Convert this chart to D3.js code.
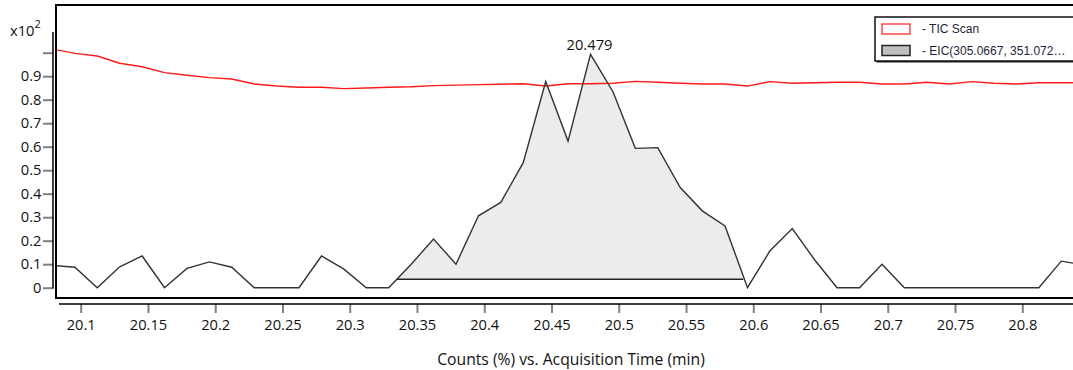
<!DOCTYPE html>
<html>
<head>
<meta charset="utf-8">
<script src="https://cdn.jsdelivr.net/npm/d3@7"></script>
<style>
  body { margin: 0; background: #fff; }
  svg { display: block; font-family: "Open Sans", "Noto Sans", sans-serif; }
  .axis text { font-family: "Open Sans", "Noto Sans", sans-serif; font-size: 14.7px; fill: #111; }
  .axis .tick line { stroke: #808080; stroke-width: 2; }
  .legend text { font-family: "Liberation Sans", Arial, sans-serif; font-size: 12px; fill: #1e1e3c; }
</style>
</head>
<body>
<svg width="1073" height="370"></svg>
<script>
// acquisition times (min), one scan per second
var times = [20.0790, 20.0957, 20.1123, 20.1290, 20.1457, 20.1623, 20.1790, 20.1957,
             20.2123, 20.2290, 20.2457, 20.2623, 20.2790, 20.2957, 20.3123, 20.3290,
             20.3457, 20.3623, 20.3790, 20.3957, 20.4123, 20.4290, 20.4457, 20.4623,
             20.4790, 20.4957, 20.5123, 20.5290, 20.5457, 20.5623, 20.5790, 20.5957,
             20.6123, 20.6290, 20.6457, 20.6623, 20.6790, 20.6957, 20.7123, 20.7290,
             20.7457, 20.7623, 20.7790, 20.7957, 20.8123, 20.8290, 20.8457];

// TIC Scan, counts x10^2
var tic = [1.016, 0.997, 0.986, 0.955, 0.940, 0.915, 0.904, 0.894,
           0.888, 0.867, 0.858, 0.853, 0.853, 0.847, 0.850, 0.853,
           0.855, 0.860, 0.862, 0.864, 0.866, 0.868, 0.858, 0.868,
           0.868, 0.870, 0.878, 0.874, 0.870, 0.867, 0.867, 0.858,
           0.877, 0.870, 0.872, 0.874, 0.874, 0.867, 0.867, 0.874,
           0.867, 0.877, 0.870, 0.867, 0.872, 0.872, 0.872];

// EIC(305.0667, 351.072...), counts x10^2
var eic = [0.095, 0.087, 0.000, 0.089, 0.135, 0.000, 0.082, 0.110,
           0.087, 0.000, 0.000, 0.000, 0.135, 0.079, 0.000, 0.000,
           0.100, 0.207, 0.100, 0.306, 0.363, 0.532, 0.877, 0.624,
           0.993, 0.834, 0.593, 0.596, 0.426, 0.326, 0.263, 0.000,
           0.156, 0.252, 0.118, 0.000, 0.000, 0.100, 0.000, 0.000,
           0.000, 0.000, 0.000, 0.000, 0.000, 0.113, 0.097];

// integrated peak baseline
var peakStart = 20.335, peakEnd = 20.5926, peakBase = 0.036;

var xTicks = [20.1, 20.15, 20.2, 20.25, 20.3, 20.35, 20.4, 20.45, 20.5, 20.55, 20.6, 20.65, 20.7, 20.75, 20.8];
var yTicks = [0, 0.1, 0.2, 0.3, 0.4, 0.5, 0.6, 0.7, 0.8, 0.9, 1.0];
var legendNames = ["- TIC Scan", "- EIC(305.0667, 351.072\u2026"];

var svg = d3.select("svg");
var W = +svg.attr("width");

var x = d3.scaleLinear().domain([20.1, 20.8]).range([80.7, 1022.3]);
var y = d3.scaleLinear().domain([0, 1]).range([287.7, 52.7]);

var ticData = times.map(function (t, i) { return {t: t, v: tic[i]}; });
var eicData = times.map(function (t, i) { return {t: t, v: eic[i]}; });

svg.append("clipPath").attr("id", "plot")
    .append("rect").attr("x", 57).attr("y", 6).attr("width", W - 57).attr("height", 291);

var g = svg.append("g").attr("clip-path", "url(#plot)");

// filled peak area between trace and baseline
function lerp(t) {
    for (var i = 1; i < times.length; i++) {
        if (times[i] >= t) {
            var f = (t - times[i - 1]) / (times[i] - times[i - 1]);
            return eic[i - 1] + f * (eic[i] - eic[i - 1]);
        }
    }
    return 0;
}
var poly = [{t: peakStart, v: lerp(peakStart)}]
    .concat(eicData.filter(function (d) { return d.t > peakStart && d.t < peakEnd; }))
    .concat([{t: peakEnd, v: lerp(peakEnd)}, {t: peakEnd, v: peakBase}, {t: peakStart, v: peakBase}]);

var line = d3.line().x(function (d) { return x(d.t); }).y(function (d) { return y(d.v); });

g.append("path")
    .datum(poly)
    .attr("fill", "#ececec")
    .attr("stroke", "none")
    .attr("d", line);

g.append("line")
    .attr("x1", x(peakStart)).attr("x2", x(peakEnd))
    .attr("y1", y(peakBase)).attr("y2", y(peakBase))
    .attr("stroke", "#222").attr("stroke-width", 1.6);

g.append("path").datum(ticData)
    .attr("fill", "none").attr("stroke", "#ff1a1a").attr("stroke-width", 1.4)
    .attr("d", line);

g.append("path").datum(eicData)
    .attr("fill", "none").attr("stroke", "#333").attr("stroke-width", 1.4)
    .attr("d", line);

// peak label
var apex = eicData.reduce(function (a, b) { return b.v > a.v ? b : a; });
svg.append("text")
    .attr("x", x(apex.t) - 1).attr("y", y(apex.v) - 4)
    .attr("text-anchor", "middle")
    .style("font-size", "14.7px").style("fill", "#111")
    .text(d3.format(".3f")(apex.t));

// plot frame
svg.append("rect")
    .attr("x", 56).attr("y", 5).attr("width", W + 10).attr("height", 293)
    .attr("fill", "none").attr("stroke", "#000").attr("stroke-width", 2);

// x axis
var xa = svg.append("g").attr("class", "axis")
    .attr("transform", "translate(0,304)")
    .call(d3.axisBottom(x).tickValues(xTicks).tickSize(9).tickPadding(7)
        .tickFormat(function (d) { return d3.format("")(+d.toFixed(2)); }));
xa.select(".domain").remove();
xa.append("line").attr("x1", 59).attr("x2", W).attr("y1", 0).attr("y2", 0)
    .attr("stroke", "#000").attr("stroke-width", 1.5);

// y axis
var ya = svg.append("g").attr("class", "axis")
    .attr("transform", "translate(53,0)")
    .call(d3.axisLeft(y).tickValues(yTicks).tickSize(10).tickPadding(1.5)
        .tickFormat(function (d) { return d >= 1 ? "" : (d === 0 ? "0" : d3.format(".1f")(d)); }));
ya.select(".domain").remove();
ya.append("line").attr("x1", 0).attr("x2", 0).attr("y1", 32).attr("y2", 288.5)
    .attr("stroke", "#000").attr("stroke-width", 1.5);

// scale factor
var sf = svg.append("text").attr("x", 10).attr("y", 36)
    .style("font-size", "14.7px").style("fill", "#111");
sf.append("tspan").text("x10");
sf.append("tspan").attr("dy", -8).style("font-size", "11px").text("2");

// axis title
svg.append("text")
    .attr("x", 571).attr("y", 365)
    .attr("text-anchor", "middle")
    .style("font-size", "15.7px").style("fill", "#111")
    .text("Counts (%) vs. Acquisition Time (min)");

// legend
var lg = svg.append("g").attr("class", "legend");
lg.append("rect").attr("x", 876.5).attr("y", 18.5).attr("width", 210).attr("height", 44)
    .attr("fill", "#222");
lg.append("rect").attr("x", 875).attr("y", 17).attr("width", 210).attr("height", 44)
    .attr("fill", "#fff").attr("stroke", "#111").attr("stroke-width", 1.5);

var items = lg.selectAll(".item").data(legendNames).enter().append("g")
    .attr("transform", function (d, i) { return "translate(882," + (24 + i * 21.5) + ")"; });
items.append("rect")
    .attr("width", 28).attr("height", 10)
    .attr("fill", function (d, i) { return i === 0 ? "#fff" : "#c0c0c0"; })
    .attr("stroke", function (d, i) { return i === 0 ? "#ff1a1a" : "#222"; })
    .attr("stroke-width", function (d, i) { return i === 0 ? 1.2 : 1.5; });
items.append("text")
    .attr("x", 40).attr("y", 5).attr("dy", "0.35em")
    .text(function (d) { return d; });
</script>
</body>
</html>
